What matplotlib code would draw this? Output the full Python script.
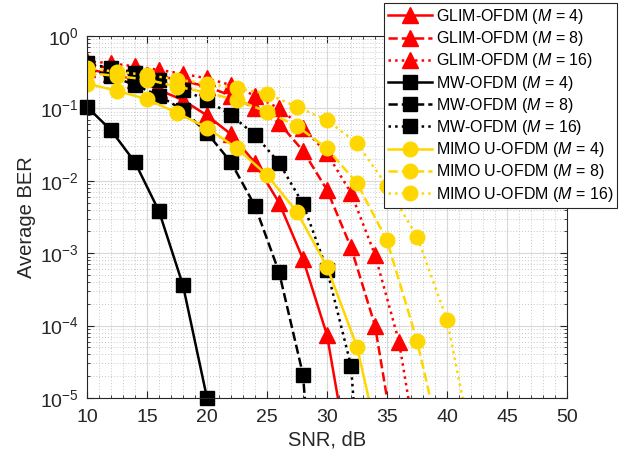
import matplotlib
matplotlib.use("Agg")
import matplotlib.pyplot as plt
from matplotlib.ticker import LogLocator, MultipleLocator, NullFormatter

plt.rcParams['font.family'] = ['Liberation Sans', 'DejaVu Sans']
plt.rcParams['mathtext.fontset'] = 'custom'
plt.rcParams['mathtext.rm'] = 'Liberation Sans'
plt.rcParams['mathtext.it'] = 'Liberation Sans:italic'

# ---- data ----
glim4_snr = [10, 12, 14, 16, 18, 20, 22, 24, 26, 28, 30, 32]
glim4_ber = [0.35, 0.30, 0.25, 0.18, 0.13, 0.08, 0.044, 0.0177, 0.005, 8.3e-4, 7.4e-5, 9e-7]

glim8_snr = [10, 12, 14, 16, 18, 20, 22, 24, 26, 28, 30, 32, 34, 36]
glim8_ber = [0.40, 0.36, 0.32, 0.28, 0.24, 0.20, 0.15, 0.10, 0.063, 0.026, 7.5e-3, 1.2e-3, 1.0e-4, 1e-6]

glim16_snr = [10, 12, 14, 16, 18, 20, 22, 24, 26, 28, 30, 32, 34, 36, 38]
glim16_ber = [0.45, 0.42, 0.38, 0.34, 0.30, 0.26, 0.21, 0.15, 0.10, 0.054, 0.024, 6.8e-3, 9.5e-4, 6e-5, 6e-7]

mw4_snr = [10, 12, 14, 16, 18, 20]
mw4_ber = [0.105, 0.05, 0.018, 0.0038, 3.6e-4, 1e-5]

mw8_snr = [10, 12, 14, 16, 18, 20, 22, 24, 26, 28, 30]
mw8_ber = [0.36, 0.28, 0.21, 0.15, 0.095, 0.046, 0.018, 4.5e-3, 5.5e-4, 2.1e-5, 1e-9]

mw16_snr = [10, 12, 14, 16, 18, 20, 22, 24, 26, 28, 30, 32, 34]
mw16_ber = [0.42, 0.36, 0.31, 0.25, 0.18, 0.13, 0.081, 0.043, 0.0178, 4.8e-3, 5.9e-4, 2.8e-5, 1e-9]

mimo4_snr = [10, 12.5, 15, 17.5, 20, 22.5, 25, 27.5, 30, 32.5, 35]
mimo4_ber = [0.22, 0.175, 0.134, 0.087, 0.054, 0.028, 0.012, 3.7e-3, 6.5e-4, 5.1e-5, 7.6e-7]

mimo8_snr = [10, 12.5, 15, 17.5, 20, 22.5, 25, 27.5, 30, 32.5, 35, 37.5, 40]
mimo8_ber = [0.31, 0.28, 0.25, 0.20, 0.165, 0.13, 0.09, 0.057, 0.028, 9.3e-3, 1.5e-3, 6.2e-5, 1e-6]

mimo16_snr = [10, 12.5, 15, 17.5, 20, 22.5, 25, 27.5, 30, 32.5, 35, 37.5, 40, 42.5]
mimo16_ber = [0.36, 0.32, 0.29, 0.25, 0.22, 0.19, 0.16, 0.105, 0.069, 0.033, 8.5e-3, 1.7e-3, 1.2e-4, 1e-6]

labels = [r'GLIM-OFDM ($\mathit{M}$ = 4)', r'GLIM-OFDM ($\mathit{M}$ = 8)', r'GLIM-OFDM ($\mathit{M}$ = 16)',
          r'MW-OFDM ($\mathit{M}$ = 4)', r'MW-OFDM ($\mathit{M}$ = 8)', r'MW-OFDM ($\mathit{M}$ = 16)',
          r'MIMO U-OFDM ($\mathit{M}$ = 4)', r'MIMO U-OFDM ($\mathit{M}$ = 8)', r'MIMO U-OFDM ($\mathit{M}$ = 16)']

x_ticks = [10, 15, 20, 25, 30, 35, 40, 45, 50]

RED = '#ff0000'
BLACK = '#000000'
GOLD = '#ffd700'

fig = plt.figure(figsize=(6.31, 4.59), dpi=100)
ax = fig.add_axes([87/631, 1-398/459, (567-87)/631, (398-36)/459])

series = [
    (glim4_snr, glim4_ber, RED, '-', '^', 11),
    (glim8_snr, glim8_ber, RED, '--', '^', 11),
    (glim16_snr, glim16_ber, RED, ':', '^', 11),
    (mw4_snr, mw4_ber, BLACK, '-', 's', 9.5),
    (mw8_snr, mw8_ber, BLACK, '--', 's', 9.5),
    (mw16_snr, mw16_ber, BLACK, ':', 's', 9.5),
    (mimo4_snr, mimo4_ber, GOLD, '-', 'o', 10.5),
    (mimo8_snr, mimo8_ber, GOLD, '--', 'o', 10.5),
    (mimo16_snr, mimo16_ber, GOLD, ':', 'o', 10.5),
]

for (xs, ys, c, ls, mk, ms), lab in zip(series, labels):
    ln, = ax.semilogy(xs, ys, color=c, linestyle=ls, linewidth=1.8, marker=mk,
                      markersize=ms, markerfacecolor=c, markeredgecolor=c, label=lab)
    if xs is mw4_snr:
        ln.set_clip_on(False)

ax.set_xlim(10, 50)
ax.set_ylim(1e-5, 1)
ax.set_xticks(x_ticks)
ax.xaxis.set_minor_locator(MultipleLocator(1))
ax.yaxis.set_major_locator(LogLocator(base=10, numticks=10))
ax.yaxis.set_minor_locator(LogLocator(base=10, subs=[2, 3, 4, 5, 6, 7, 8, 9], numticks=20))
ax.yaxis.set_minor_formatter(NullFormatter())

ax.grid(True, which='major', color='#d9d9d9', linestyle='-', linewidth=0.8)
ax.grid(True, which='minor', color='#c8c8c8', linestyle=(0, (1, 2)), linewidth=0.7)
ax.set_axisbelow(True)

ax.tick_params(which='both', direction='in', top=True, right=True, colors='#262626',
               labelcolor='#262626', labelsize=14)
ax.tick_params(which='major', length=5, width=0.8)
ax.tick_params(axis='x', which='major', pad=8)
ax.tick_params(axis='y', which='major', pad=6)
ax.tick_params(which='minor', length=2.5, width=0.6)
for s in ax.spines.values():
    s.set_color('#262626')
    s.set_linewidth(0.8)

ax.set_xlabel('SNR, dB', fontsize=14.5, color='#262626', labelpad=3)
ax.set_ylabel('Average BER', fontsize=14.5, color='#262626', labelpad=3)

leg = fig.legend(loc='upper right', bbox_to_anchor=(617/631, 1-3/459), fontsize=11.5,
                 handlelength=2.8, handletextpad=0.2, borderpad=0.25, labelspacing=0.2,
                 borderaxespad=0, frameon=True, fancybox=False, framealpha=1)
leg.get_frame().set_edgecolor('#262626')
leg.get_frame().set_linewidth(0.8)

fig.savefig('out.png', dpi=100)
